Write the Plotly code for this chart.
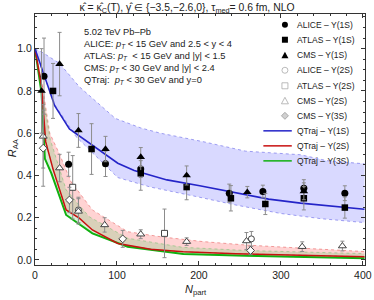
import plotly.graph_objects as go

# ---------------- data ----------------
alice1_x = [11, 41, 86, 129, 237, 278, 328, 378]
alice1_y = [0.87, 0.453, 0.455, 0.43, 0.316, 0.324, 0.34, 0.316]
alice1_e = [0.18, 0.057, 0.06, 0.04, 0.043, 0.03, 0.04, 0.035]

atlas1_x = [22, 69, 129, 185, 239, 281, 328, 378]
atlas1_y = [0.80, 0.525, 0.41, 0.345, 0.292, 0.265, 0.292, 0.248]
atlas1_e = [0.13, 0.12, 0.08, 0.06, 0.06, 0.05, 0.055, 0.05]

cms1_x = [8, 30, 53, 86, 129, 185, 259, 328]
cms1_y = [0.80, 0.927, 0.613, 0.525, 0.487, 0.40, 0.321, 0.325]
cms1_e = [0.2, 0.15, 0.08, 0.06, 0.045, 0.045, 0.027, 0.04]

alice2_x = [53, 264]
alice2_y = [0.237, 0.10]
alice2_e = [0.06, 0.035]

atlas2_x = [46, 158]
atlas2_y = [0.344, 0.126]
atlas2_e = [0.15, 0.115]

cms2_x = [10, 30, 53, 85, 129, 185, 258, 326, 375]
cms2_y = [0.585, 0.435, 0.23, 0.166, 0.122, 0.087, 0.09, 0.063, 0.066]
cms2_e = [0.15, 0.065, 0.06, 0.034, 0.021, 0.018, 0.04, 0.023, 0.023]

cms3_x = [10, 42, 107, 263]
cms3_y = [0.529, 0.284, 0.10, 0.045]
cms3_e = [0.18, 0.06, 0.04, 0.02]

# QTraj curves
q1_x = [0, 14, 24, 42, 66, 101, 121, 161, 201, 245, 285, 324, 376, 402]
q1_y = [1.0, 0.84, 0.73, 0.62, 0.553, 0.458, 0.423, 0.379, 0.351, 0.318, 0.288, 0.269, 0.248, 0.24]
q1_up_x = [0, 10, 30, 54, 98, 129, 153, 205, 257, 324, 356, 402]
q1_up_y = [1.0, 0.98, 0.93, 0.82, 0.67, 0.625, 0.60, 0.56, 0.515, 0.498, 0.47, 0.455]
q1_lo_x = [0, 10, 25, 50, 101, 141, 197, 245, 300, 350, 402]
q1_lo_y = [1.0, 0.88, 0.73, 0.584, 0.39, 0.345, 0.30, 0.26, 0.22, 0.195, 0.177]

q2_x = [0, 8, 13, 22, 38, 54, 70, 101, 141, 181, 245, 300, 350, 402]
q2_y = [1.0, 0.82, 0.56, 0.43, 0.237, 0.198, 0.142, 0.078, 0.051, 0.039, 0.03, 0.024, 0.019, 0.015]
q2_up_x = [0, 8, 18, 30, 44, 70, 113, 153, 205, 257, 330, 402]
q2_up_y = [1.0, 0.85, 0.60, 0.50, 0.37, 0.237, 0.134, 0.11, 0.087, 0.071, 0.055, 0.04]

q3_x = [0, 8, 12, 20, 38, 70, 113, 181, 257, 330, 402]
q3_y = [1.0, 0.79, 0.48, 0.41, 0.213, 0.126, 0.063, 0.028, 0.02, 0.013, 0.008]
q3_up_x = [0, 8, 18.6, 38, 66, 113, 180, 257, 402]
q3_up_y = [1.0, 0.82, 0.57, 0.332, 0.205, 0.103, 0.06, 0.045, 0.03]

# legend entries
leg_labels = ["ALICE – Υ(1S)", "ATLAS – Υ(1S)", "CMS – Υ(1S)", "ALICE – Υ(2S)",
              "ATLAS – Υ(2S)", "CMS – Υ(2S)", "CMS – Υ(3S)",
              "QTraj – Υ(1S)", "QTraj – Υ(2S)", "QTraj – Υ(3S)"]

# ---------------- figure ----------------
W, H = 374, 300
ML, MR, MT, MB = 35, 2.3, 14.3, 35
PW, PH = W - ML - MR, H - MT - MB

FONT = "Liberation Sans, Arial, sans-serif"
BLUE, RED, GREEN = "#2424c8", "#c81010", "#10b010"

fig = go.Figure()


def band(xu, yu, xl, yl, fill, edge):
    fig.add_trace(go.Scatter(x=xl, y=yl, mode="lines",
                             line=dict(color=edge, width=0.8, dash="dot"),
                             hoverinfo="skip", showlegend=False))
    fig.add_trace(go.Scatter(x=xu, y=yu, mode="lines", fill="tonexty",
                             fillcolor=fill,
                             line=dict(color=edge, width=0.8, dash="dot"),
                             hoverinfo="skip", showlegend=False))


band(q1_up_x, q1_up_y, q1_lo_x, q1_lo_y, "rgba(120,120,255,0.28)", "rgba(90,90,230,0.7)")
band(q2_up_x, q2_up_y, q2_x, q2_y, "rgba(255,110,110,0.3)", "rgba(230,90,90,0.7)")
band(q3_up_x, q3_up_y, q3_x, q3_y, "rgba(120,200,120,0.28)", "rgba(100,190,100,0.6)")

fig.add_trace(go.Scatter(x=q3_x, y=q3_y, mode="lines", line=dict(color=GREEN, width=2),
                         name="QTraj – Υ(3S)", showlegend=False))
fig.add_trace(go.Scatter(x=q2_x, y=q2_y, mode="lines", line=dict(color=RED, width=1.5),
                         name="QTraj – Υ(2S)", showlegend=False))
fig.add_trace(go.Scatter(x=q1_x, y=q1_y, mode="lines", line=dict(color=BLUE, width=1.6),
                         name="QTraj – Υ(1S)", showlegend=False))

ERR = dict(type="data", color="#8c8c8c", thickness=1, width=2)


def pts(x, y, e, symbol, size, name, filled=True):
    if filled:
        mk = dict(symbol=symbol, size=size, color="black", line=dict(width=0))
    else:
        mk = dict(symbol=symbol, size=size, color="white", line=dict(width=1, color="#444"))
    fig.add_trace(go.Scatter(x=x, y=y, mode="markers", marker=mk, name=name,
                             error_y=dict(array=e, **ERR), showlegend=False))


pts(atlas2_x, atlas2_y, atlas2_e, "square", 6, "ATLAS – Υ(2S)", False)
pts(alice2_x, alice2_y, alice2_e, "circle", 6, "ALICE – Υ(2S)", False)
pts(cms2_x, cms2_y, cms2_e, "triangle-up", 7, "CMS – Υ(2S)", False)
pts(cms3_x, cms3_y, cms3_e, "diamond", 6, "CMS – Υ(3S)", False)
pts(alice1_x, alice1_y, alice1_e, "circle", 7, "ALICE – Υ(1S)")
pts(atlas1_x, atlas1_y, atlas1_e, "square", 6.5, "ATLAS – Υ(1S)")
pts(cms1_x, cms1_y, cms1_e, "triangle-up", 7.5, "CMS – Υ(1S)")


def px2paper(px, py):
    return (px - ML) / PW, (H - MB - py) / PH


annotations = []
shapes = []

# legend (manual, 15 px row spacing)
leg_y = [25, 40, 55.5, 70.5, 86, 101, 116, 131, 146, 161]
mk_x = 290
for i, (lab, py) in enumerate(zip(leg_labels, leg_y)):
    tx, ty = px2paper(300, py)
    annotations.append(dict(x=tx, y=ty, xref="paper", yref="paper", text=lab,
                            showarrow=False, xanchor="left", yanchor="middle",
                            font=dict(size=8.5, color="#222", family=FONT)))
    ax, ay = px2paper(mk_x, py)
    common = dict(xref="paper", yref="paper", xsizemode="pixel", ysizemode="pixel",
                  xanchor=ax, yanchor=ay)
    if i == 0:
        shapes.append(dict(type="circle", x0=-3, x1=3, y0=-3, y1=3,
                           fillcolor="black", line=dict(width=0), **common))
    elif i == 1:
        shapes.append(dict(type="rect", x0=-3, x1=3, y0=-3, y1=3,
                           fillcolor="black", line=dict(width=0), **common))
    elif i == 2:
        shapes.append(dict(type="path", path="M -3.5,-3 L 3.5,-3 L 0,3.5 Z",
                           fillcolor="black", line=dict(width=0), **common))
    elif i == 3:
        shapes.append(dict(type="circle", x0=-3, x1=3, y0=-3, y1=3,
                           fillcolor="white", line=dict(width=0.8, color="#aaa"), **common))
    elif i == 4:
        shapes.append(dict(type="rect", x0=-3, x1=3, y0=-3, y1=3,
                           fillcolor="white", line=dict(width=0.8, color="#aaa"), **common))
    elif i == 5:
        shapes.append(dict(type="path", path="M -3.5,-3 L 3.5,-3 L 0,3.5 Z",
                           fillcolor="white", line=dict(width=0.8, color="#aaa"), **common))
    elif i == 6:
        shapes.append(dict(type="path", path="M 0,-3.5 L 3.5,0 L 0,3.5 L -3.5,0 Z",
                           fillcolor="#d0d0d0", line=dict(width=0.8, color="#999"), **common))
    else:
        col = [BLUE, RED, GREEN][i - 7]
        x0, _ = px2paper(268, py)
        x1, _ = px2paper(297, py)
        shapes.append(dict(type="line", xref="paper", yref="paper", x0=x0, x1=x1,
                           y0=ay, y1=ay, line=dict(color=col, width=1.5)))

# info text block
info = [
    (32, "5.02 TeV Pb–Pb"),
    (45, "ALICE: <i>p</i><sub><i>T</i></sub> &lt; 15 GeV and 2.5 &lt; y &lt; 4"),
    (57, "ATLAS: <i>p</i><sub><i>T</i></sub>  &lt; 15 GeV and |y| &lt; 1.5"),
    (69, "CMS: <i>p</i><sub><i>T</i></sub> &lt; 30 GeV and |y| &lt; 2.4"),
    (81, "QTraj:  <i>p</i><sub><i>T</i></sub> &lt; 30 GeV and y=0"),
]
for py, t in info:
    tx, ty = px2paper(83, py)
    annotations.append(dict(x=tx, y=ty, xref="paper", yref="paper", text=t,
                            showarrow=False, xanchor="left", yanchor="middle",
                            font=dict(size=9.3, color="#222", family=FONT)))

# axis titles
tx, ty = px2paper(12, 148)
annotations.append(dict(x=tx, y=ty, xref="paper", yref="paper",
                        text="<i>R</i><sub>AA</sub>", textangle=-90, showarrow=False,
                        xanchor="center", yanchor="middle",
                        font=dict(size=11, color="#222", family=FONT)))
tx, ty = px2paper(199, 290)
annotations.append(dict(x=tx, y=ty, xref="paper", yref="paper",
                        text="<i>N</i><sub>part</sub>", showarrow=False,
                        xanchor="center", yanchor="middle",
                        font=dict(size=11, color="#222", family=FONT)))

axis_common = dict(showgrid=False, zeroline=False, showline=True, linecolor="#333",
                   linewidth=1, mirror="allticks", ticks="inside", ticklen=4,
                   tickwidth=0.8, tickcolor="#333", ticklabeloverflow="allow",
                   tickfont=dict(size=10.5, color="#222", family=FONT))

fig.update_layout(
    width=W, height=H,
    margin=dict(l=ML, r=MR, t=MT, b=MB, pad=0),
    paper_bgcolor="white", plot_bgcolor="white",
    showlegend=False,
    title=dict(text="κ̂ = κ̂<sub>C</sub>(T), γ̂ ∈ {−3.5,−2.6,0}, τ<sub>med</sub>= 0.6 fm, NLO",
               x=0.5, xanchor="center", y=1 - 7 / H, yanchor="middle",
               font=dict(size=10.4, color="#222", family=FONT)),
    xaxis=dict(range=[0, 402.6], tickvals=[0, 100, 200, 300, 400],
               minor=dict(dtick=20, tick0=0, ticklen=2, ticks="inside", tickcolor="#333"),
               **axis_common),
    yaxis=dict(range=[-0.0237, 1.164], tickvals=[0, 0.2, 0.4, 0.6, 0.8, 1.0],
               tickformat=".1f",
               minor=dict(dtick=0.05, tick0=0, ticklen=2, ticks="inside", tickcolor="#333"),
               **axis_common),
    annotations=annotations,
    shapes=shapes,
)

fig.write_html("out.html", config={"displayModeBar": False},
               post_script="document.body.style.margin='0';document.body.style.padding='0';"
                           "document.documentElement.style.overflow='hidden';")
